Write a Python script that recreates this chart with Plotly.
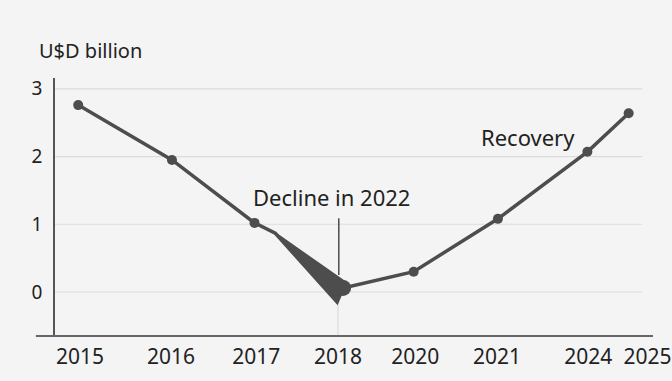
import plotly.graph_objects as go

# Category tick labels and their positions along the x axis
tick_labels = ["2015", "2016", "2017", "2018", "2020", "2021", "2024", "2025"]
tick_pos = [0.0, 1.06, 2.05, 3.0, 3.9, 4.85, 5.91, 6.6]

# Series (position along x, value in USD billion)
line_x = [-0.02, 1.07, 2.03, 2.27, 2.99, 3.06, 3.88, 4.86, 5.9, 6.38]
line_y = [2.76, 1.95, 1.02, 0.87, -0.15, 0.06, 0.30, 1.08, 2.07, 2.64]
marker_sizes = [10, 10, 10, 0, 0, 16, 10, 10, 10, 10]

# Wedge of the decline (kink, tip, 2018 point area)
wedge_x = [2.27, 2.99, 3.04, 3.10, 2.27]
wedge_y = [0.87, -0.15, -0.02, 0.13, 0.87]

y_ticks = [0, 1, 2, 3]

LINE = "#4d4d4d"
TXT = "#222222"
BG = "#f4f4f4"
FONT = "Noto Sans"

fig = go.Figure()
fig.add_trace(go.Scatter(x=wedge_x, y=wedge_y, mode="lines", fill="toself",
                         fillcolor=LINE, line=dict(color=LINE, width=2),
                         hoverinfo="skip", showlegend=False))
fig.add_trace(go.Scatter(x=line_x, y=line_y, mode="lines+markers",
                         line=dict(color=LINE, width=3.5),
                         marker=dict(size=marker_sizes, color=LINE, opacity=1,
                                     line=dict(width=0)),
                         showlegend=False))

shapes = []
for v in y_ticks:
    shapes.append(dict(type="line", xref="paper", yref="y", x0=0, x1=0.9816,
                       y0=v, y1=v, line=dict(color="#dcdcdc", width=1.2), layer="below"))
# faint vertical guide at 2018
shapes.append(dict(type="line", xref="x", yref="paper", x0=3.0, x1=3.0,
                   y0=0, y1=0.19, line=dict(color="#dcdcdc", width=1.2), layer="below"))
# bottom baseline
shapes.append(dict(type="line", xref="paper", yref="paper", x0=-0.032, x1=1.0,
                   y0=0, y1=0, line=dict(color="#666666", width=2)))
# annotation leader line
shapes.append(dict(type="line", xref="x", yref="y", x0=3.01, x1=3.01,
                   y0=0.25, y1=1.09, line=dict(color="#333333", width=1.3)))

annotations = [
    dict(text="U$D billion", xref="paper", yref="paper", x=-0.03, y=1.108,
         xanchor="left", yanchor="middle", showarrow=False,
         font=dict(family=FONT, size=20, color=TXT)),
    dict(text="Decline in 2022", xref="x", yref="y", x=2.93, y=1.40,
         xanchor="center", yanchor="middle", showarrow=False,
         font=dict(family=FONT, size=22, color=TXT)),
    dict(text="Recovery", xref="x", yref="y", x=5.21, y=2.29,
         xanchor="center", yanchor="middle", showarrow=False,
         font=dict(family=FONT, size=22, color=TXT)),
]

fig.update_layout(
    width=672, height=381,
    margin=dict(l=55, r=19, t=78, b=45, autoexpand=False),
    paper_bgcolor=BG, plot_bgcolor=BG,
    font=dict(family=FONT, color=TXT),
    shapes=shapes, annotations=annotations,
    xaxis=dict(range=[-0.29, 6.663], tickvals=tick_pos, ticktext=tick_labels,
               showgrid=False, zeroline=False, showline=False, ticks="",
               automargin=False,
               tickfont=dict(family=FONT, size=21, color=TXT), ticklabelstandoff=6),
    yaxis=dict(range=[-0.65, 3.16], tickvals=y_ticks, showgrid=False,
               zeroline=False, showline=True, linecolor="#555555", linewidth=1.5,
               ticks="", automargin=False,
               tickfont=dict(family=FONT, size=19, color=TXT),
               ticklabelstandoff=7),
)

fig.write_html("out.html")
